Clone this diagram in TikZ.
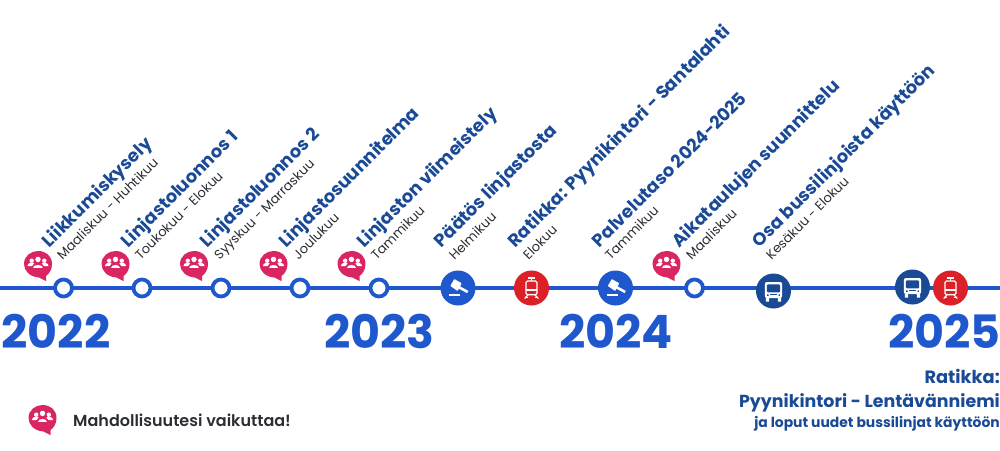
\documentclass[tikz,border=0pt]{standalone}
\usepackage{fontspec}
\setmainfont{Poppins}
\newfontfamily\semib{Poppins SemiBold}
\definecolor{lineblue}{HTML}{1F57CC}
\definecolor{navy}{HTML}{1A4A96}
\definecolor{tramred}{HTML}{DC2027}
\definecolor{pink}{HTML}{D92663}
\definecolor{inkdark}{HTML}{2A2D34}
\tikzset{
 x=1pt,y=-1pt,
 dot/.style={circle,draw=lineblue,line width=3.8pt,fill=white,minimum size=17pt,inner sep=0pt},
 bigdot/.style={circle,minimum size=35pt,inner sep=0pt,fill=#1},
 title/.style={rotate=45,anchor=base west,inner sep=0pt,text=navy,font=\bfseries\fontsize{17.8}{20}\selectfont},
 sub/.style={rotate=45,anchor=base west,inner sep=0pt,text=inkdark,font=\fontsize{13}{14}\selectfont},
 year/.style={anchor=base,inner sep=0pt,text=lineblue,font=\bfseries\fontsize{46}{50}\selectfont},
 bubble/.pic={
  \fill[pink] (-14,0) .. controls (-14,-8) and (-7,-13) .. (0,-13)
     .. controls (8,-13) and (14,-8) .. (14,0)
     .. controls (14,6) and (11,10) .. (8,12) -- (8,17) -- (1,13.5)
     .. controls (-8,13) and (-14,7) .. (-14,0) -- cycle;
  \fill[white] (0,-4.6) circle (2.7) (-6.3,-3.3) circle (2.2) (6.3,-3.3) circle (2.2);
  \fill[white] (-4.8,4.4) .. controls (-4.8,-.5) and (4.8,-.5) .. (4.8,4.4) -- cycle;
  \fill[white] (-10.6,2.2) .. controls (-10.6,-1.7) and (-5.5,-1.7) .. (-3.9,-.6) .. controls (-5,.3) and (-5.8,1) .. (-6,2.2) -- cycle;
  \fill[white] (10.6,2.2) .. controls (10.6,-1.7) and (5.5,-1.7) .. (3.9,-.6) .. controls (5,.3) and (5.8,1) .. (6,2.2) -- cycle;
 },
 gavel/.pic={
  \fill[white,rounded corners=0.6pt] (-3.7,-9) -- (3.7,-4.7) -- (-0.3,3) -- (-7.7,-2) -- cycle;
  \draw[white,line width=2.6pt] (0,-1.3) -- (9.7,4);
  \fill[white] (-8.7,6) rectangle (2.3,8.2);
 },
 tram/.pic={
  \draw[white,line width=1.3pt,rounded corners=1.5pt] (-5.5,-7) rectangle (5.5,6.8);
  \fill[white] (-5.5,1.2) rectangle (5.5,2.8);
  \draw[white,line width=1.1pt] (-3.2,-10) -- (3.2,-10);
  \draw[white,line width=1.1pt] (0,-10) -- (0,-7);
  \draw[white,line width=1.2pt] (-3.5,6.8) -- (-6.8,10.5) (3.5,6.8) -- (6.8,10.5);
  \draw[white,line width=1pt] (-6.3,9) -- (-3.5,9) (6.3,9) -- (3.5,9);
 },
 bus/.pic={
  \fill[white,rounded corners=2pt] (-8.6,-9) rectangle (8.6,7);
  \fill[#1,rounded corners=1pt] (-6.6,-6.6) rectangle (6.6,1.4);
  \fill[#1] (-3.6,3.4) rectangle (3.6,4.4);
  \fill[#1] (-6.4,3.4) rectangle (-5,4.8) (6.4,3.4) rectangle (5,4.8);
  \fill[white] (-7.6,6.5) rectangle (-4.4,10.5) (7.6,6.5) rectangle (4.4,10.5);
 },
}
\begin{document}
\begin{tikzpicture}
\useasboundingbox (0,0) rectangle (1000,450);
\coordinate (lineL) at (0,288);
\coordinate (lineR) at (1000,288);
\draw[lineblue,line width=3.6pt] (lineL) -- (lineR);
\node[dot] (d1) at (63.5,288) {};
\node[dot] (d2) at (142,288) {};
\node[dot] (d3) at (221,288) {};
\node[dot] (d4) at (300,288) {};
\node[dot] (d5) at (379,288) {};
\node[dot] (d6) at (694.5,288) {};
\node[bigdot=lineblue] (g1) at (458,288) {};
\node[bigdot=tramred] (t1) at (531.5,288) {};
\node[bigdot=lineblue] (g2) at (615.5,288) {};
\node[bigdot=navy] (b1) at (773.5,291) {};
\node[bigdot=navy] (b2) at (912.5,287) {};
\node[bigdot=tramred] (t2) at (950.5,288) {};
\pic at (g1) {gavel};
\pic at (g2) {gavel};
\pic at (t1) {tram};
\pic at (t2) {tram};
\pic at (b1) {bus=navy};
\pic at (b2) {bus=navy};
\pic at (38,264) {bubble};
\pic at (115.5,264) {bubble};
\pic at (194,264) {bubble};
\pic at (273.5,264) {bubble};
\pic at (351.5,264) {bubble};
\pic at (666.5,264) {bubble};
\pic at (42.5,418) {bubble};
\node[title] (a1) at (49.5,248.5) {Liikkumiskysely};
\node[title] (a2) at (128.5,248.5) {Linjastoluonnos 1};
\node[title] (a3) at (207.5,248.5) {Linjastoluonnos 2};
\node[title] (a4) at (286.5,248.5) {Linjastosuunnitelma};
\node[title] (a5) at (364.5,248.5) {Linjaston viimeistely};
\node[title] (a6) at (441.5,248.5) {Päätös linjastosta};
\node[title] (a7) at (515.5,248.5) {Ratikka: Pyynikintori - Santalahti};
\node[title] (a8) at (599.5,248.5) {Palvelutaso 2024-2025};
\node[title] (a9) at (679.5,248.5) {Aikataulujen suunnittelu};
\node[title] (a10) at (759.5,248.5) {Osa bussilinjoista käyttöön};
\node[sub] (s1) at (62.5,260.5) {Maaliskuu - Huhtikuu};
\node[sub] (s2) at (140.5,260.5) {Toukokuu - Elokuu};
\node[sub] (s3) at (219.5,260.5) {Syyskuu - Marraskuu};
\node[sub] (s4) at (298.5,260.5) {Joulukuu};
\node[sub] (s5) at (376.5,260.5) {Tammikuu};
\node[sub] (s6) at (454.5,260.5) {Helmikuu};
\node[sub] (s7) at (528.5,260.5) {Elokuu};
\node[sub] (s8) at (610.5,260.5) {Tammikuu};
\node[sub] (s9) at (691.5,260.5) {Maaliskuu};
\node[sub] (s10) at (771.5,260.5) {Kesäkuu - Elokuu};
\node[year] (y1) at (56,348) {2022};
\node[year] (y2) at (379.5,348) {2023};
\node[year] (y3) at (616,348) {2024};
\node[year,anchor=base east] (y4) at (1001,348) {2025};
\node[anchor=base east,inner sep=0pt,text=navy,font=\bfseries\fontsize{17.8}{20}\selectfont] (r1) at (1000,383) {Ratikka:};
\node[anchor=base east,inner sep=0pt,text=navy,font=\bfseries\fontsize{17.4}{20}\selectfont] (r2) at (1000,407) {Pyynikintori - Lentävänniemi};
\node[anchor=base east,inner sep=0pt,text=navy,font=\bfseries\fontsize{13.9}{16}\selectfont] (r3) at (1000,427) {ja loput uudet bussilinjat käyttöön};
\node[anchor=base west,inner sep=0pt,text=inkdark,font=\semib\fontsize{16}{18}\selectfont] (leg) at (73,426) {Mahdollisuutesi vaikuttaa!};
\end{tikzpicture}
\end{document}
